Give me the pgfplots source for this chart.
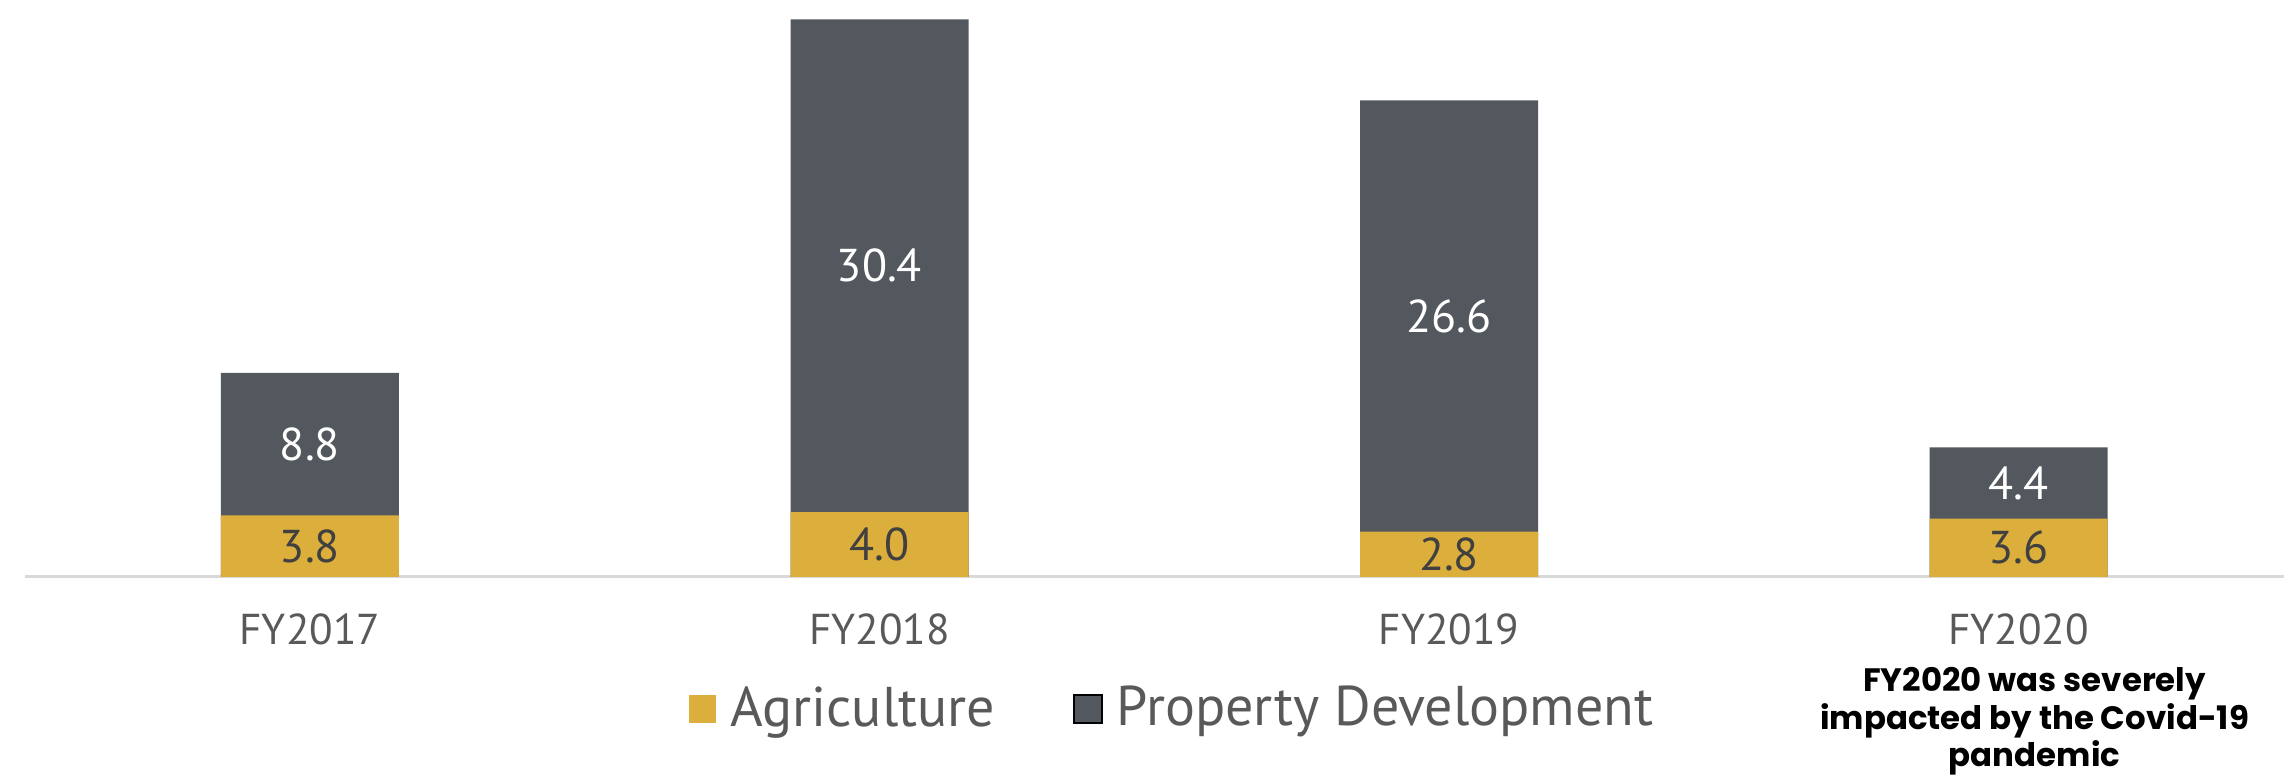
\documentclass[border=0pt]{standalone}
\usepackage{pgfplots}
\pgfplotsset{compat=1.18}
\usepackage{pgfplotstable}
\usepackage{fontspec}
\setmainfont{PT Sans}
\newfontfamily\annfont{Poppins}
\usetikzlibrary{calc}
\definecolor{gold}{HTML}{DCAF3C}
\definecolor{slate}{HTML}{53575E}
\definecolor{ticktext}{HTML}{595959}
\definecolor{agrtext}{HTML}{404040}
\definecolor{axline}{HTML}{D9D9D9}

\pgfplotstableread{
x agri prop
0 3.8 8.8
1 4.0 30.4
2 2.8 26.6
3 3.6 4.4
}\data

\begin{document}
\begin{tikzpicture}
\begin{axis}[name=ax, scale only axis, width=564.75pt, height=144.25pt,
  xmin=-0.5, xmax=3.466, ymin=0, ymax=35.6,
  axis x line*=bottom, axis y line=none,
  x axis line style={draw=axline, line width=0.75pt},
  xtick={0,1,2,3}, xticklabels={FY2017,FY2018,FY2019,FY2020},
  major tick length=0pt, ytick=\empty,
  xticklabel style={font=\fontsize{10.8}{12}\selectfont, text=ticktext, anchor=base, yshift=-17pt},
  clip=false,
  legend columns=2,
  legend style={at={(0.509,-0.229)}, anchor=center, draw=none, fill=none,
    font=\fontsize{14}{16}\selectfont, text=ticktext,
    /tikz/every odd column/.append style={column sep=1.5pt},
    /tikz/every even column/.append style={column sep=17.5pt}},
  legend cell align=left,
  legend image code/.code={\fill[#1] (0pt,-3.5pt) rectangle (7pt,3.5pt);},
  lbl/.style={draw=none, mark=none, forget plot,
    nodes near coords={\pgfmathprintnumber[fixed,fixed zerofill,precision=1,assume math mode=true]{\pgfplotspointmeta}},
    every node near coord/.style={anchor=center, font=\fontsize{11.5}{12}\selectfont, text=#1}},
]
% full stacks (property on top of agriculture)
\addplot[ybar, bar width=44.5pt, bar shift=0pt, fill=slate, draw=none, forget plot]
  table[x=x, y expr=\thisrow{agri}+\thisrow{prop}]{\data};
\addplot[ybar, bar width=44.5pt, bar shift=0pt, fill=gold, draw=none]
  table[x=x, y=agri]{\data};
\addlegendentry{Agriculture}
\addlegendimage{fill=slate}
\addlegendentry{Property Development}
% segment labels
\addplot[lbl=agrtext, point meta=\thisrow{agri}]
  table[x=x, y expr=\thisrow{agri}/2]{\data};
\addplot[lbl=white, point meta=\thisrow{prop}]
  table[x=x, y expr=\thisrow{agri}+\thisrow{prop}/2]{\data};
\node[font=\annfont\bfseries\fontsize{8.1}{9.3}\selectfont, align=center, anchor=north, inner sep=0pt]
  at (axis cs:3,0) [xshift=4pt, yshift=-22.5pt] {FY2020 was severely\\impacted by the Covid-19\\pandemic};
\end{axis}
\pgfresetboundingbox
\path[use as bounding box] ($(ax.south west)+(-6.3pt,-49.75pt)$) rectangle (ax.north east);
\end{tikzpicture}
\end{document}
